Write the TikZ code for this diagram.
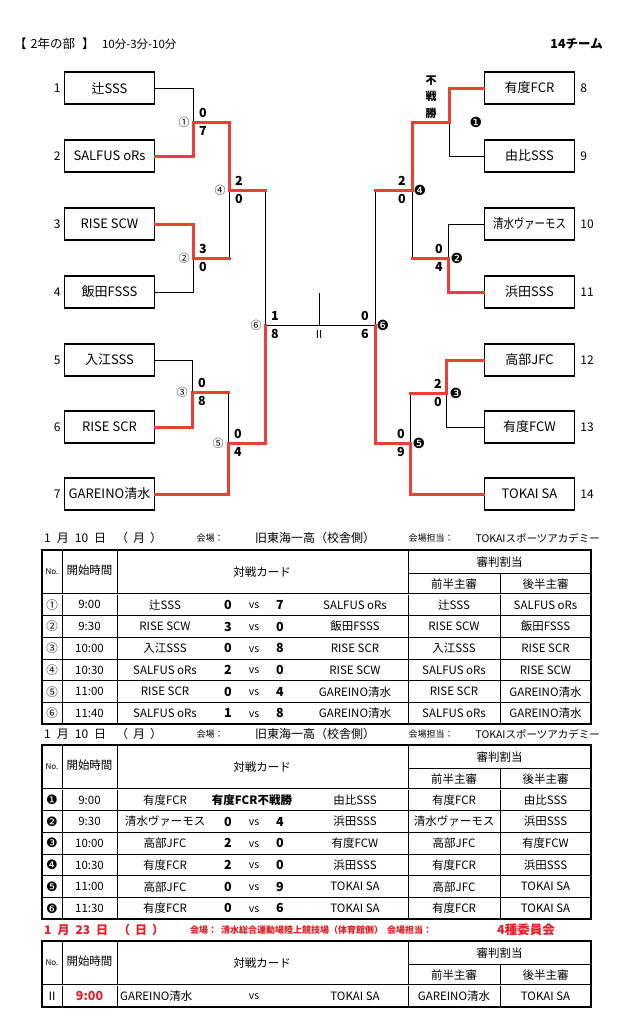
\documentclass[tikz,border=0pt]{standalone}
\usepackage{fontspec}
\setmainfont{Noto Sans CJK JP}
\newfontfamily\dv{DejaVu Sans}
\usetikzlibrary{positioning}
\definecolor{winred}{RGB}{236,64,52}
\definecolor{datered}{RGB}{228,30,36}

\begin{document}
\begin{tikzpicture}[x=1pt,y=-1pt,
  team/.style={draw,line width=1.5pt,minimum width=90pt,minimum height=32pt,inner sep=0pt,font=\fontsize{13}{15}\selectfont},
  seed/.style={inner sep=0pt,font=\fontsize{12}{14}\selectfont},
  lose/.style={line width=0.9pt},
  win/.style={draw=winred,line width=3pt,line cap=rect},
  score/.style={inner sep=0pt,font=\bfseries\fontsize{12.5}{14}\selectfont},
  gameno/.style={inner sep=0pt,font=\fontsize{11}{13}\selectfont},
  dark/.style={inner sep=0pt,font=\dv\fontsize{14}{16}\selectfont},
  cell/.style={inner sep=0pt,font=\fontsize{11.5}{13}\selectfont},
  note/.style={inner sep=0pt,font=\fontsize{9}{11}\selectfont},
  rule/.style={line width=0.7pt},
  tblframe/.style={line width=1.6pt}]
  \useasboundingbox (0,0) rectangle (624,1029);
  \fill[white] (0,0) rectangle (624,1029);

  % cabecera
  \node[anchor=west,inner sep=0pt,font=\fontsize{12.5}{14}\selectfont] (title) at (14,44) {【\hspace{4pt}2年の部\hspace{7pt}】};
  \node[inner sep=0pt,font=\fontsize{11.5}{13}\selectfont,right=7pt of title] (rules) {10分-3分-10分};
  \node[anchor=east,inner sep=0pt,font=\bfseries\fontsize{12.5}{14}\selectfont] (count) at (603,44) {14チーム};

  % equipos (izquierda)
  \node[team] (t1) at (109.5,88) {辻SSS};
  \node[team] (t2) at (109.5,156) {SALFUS oRs};
  \node[team] (t3) at (109.5,224) {RISE SCW};
  \node[team] (t4) at (109.5,292) {飯田FSSS};
  \node[team] (t5) at (109.5,360) {入江SSS};
  \node[team] (t6) at (109.5,427) {RISE SCR};
  \node[team] (t7) at (109.5,494) {GAREINO清水};
  % equipos (derecha)
  \node[team] (t8) at (529.5,88) {有度FCR};
  \node[team] (t9) at (529.5,156) {由比SSS};
  \node[team] (t10) at (529.5,224) {\scalebox{0.8}[1]{清水ヴァーモス}};
  \node[team] (t11) at (529.5,292) {浜田SSS};
  \node[team] (t12) at (529.5,360) {高部JFC};
  \node[team] (t13) at (529.5,427) {有度FCW};
  \node[team] (t14) at (529.5,494) {TOKAI SA};
  \foreach \k in {1,...,7}{\node[seed,left=3pt of t\k] (s\k) {\k};}
  \foreach \k in {8,...,14}{\node[seed,right=5pt of t\k] (s\k) {\k};}

  % puntos de cruce
  \coordinate (m1) at (193,122);
  \coordinate (m2) at (193,258);
  \coordinate (m3) at (192,392);
  \coordinate (m4) at (229,190);
  \coordinate (m5) at (228,443);
  \coordinate (m6) at (265,325);
  \coordinate (n1) at (449,122);
  \coordinate (n2) at (448,258);
  \coordinate (n3) at (446,393);
  \coordinate (n4) at (412,190);
  \coordinate (n5) at (410,443);
  \coordinate (n6) at (375,325);
  \coordinate (pole) at (319,293);

  % lineas perdedoras
  \draw[lose] (t1.east) -| (m1);
  \draw[lose] (t4.east) -| (m2);
  \draw[lose] (t5.east) -| (m3);
  \draw[lose] (m2 -| m4) -- (m4);
  \draw[lose] (m4 -| m6) -- (m6);
  \draw[lose] (m3 -| m5) -- (m5);
  \draw[lose] (t9.west) -| (n1);
  \draw[lose] (t10.west) -| (n2);
  \draw[lose] (t13.west) -| (n3);
  \draw[lose] (n2 -| n4) -- (n4);
  \draw[lose] (n4 -| n6) -- (n6);
  \draw[lose] (n3 -| n5) -- (n5);
  \draw[lose] (m6) -- (n6);
  \draw[lose] (pole) -- (pole |- m6);

  % lineas ganadoras
  \draw[win] (t2.east) -| (m1) -| (m4) -- (m4 -| m6);
  \draw[win] (t3.east) -| (m2) -- (m2 -| m4);
  \draw[win] (t6.east) -| (m3) -- (m3 -| m5);
  \draw[win] (t7.east) -| (m5) -| (m6);
  \draw[win] (t8.west) -| (n1) -| (n4) -- (n4 -| n6);
  \draw[win] (t11.west) -| (n2) -- (n2 -| n4);
  \draw[win] (t12.west) -| (n3) -- (n3 -| n5);
  \draw[win] (t14.west) -| (n5) -| (n6);

  % marcadores y numeros de partido
  \foreach \g/\x/\y/\sa/\sb/\mx/\num in {m1/203/122/0/7/184/①, m2/203/258/3/0/184/②, m3/202/392/0/8/182/③,
      m4/239/190/2/0/220/④, m5/238/443/0/4/218/⑤, m6/275/325/1/8/256/⑥}{
    \node[score] (\g-a) at (\x,\y-9) {\sa};
    \node[score] (\g-b) at (\x,\y+9) {\sb};
    \node[gameno] (\g-no) at (\mx,\y) {\num};
  }
  \foreach \g/\x/\y/\sa/\sb/\mx/\num in {n2/439/258/0/4/457/❷, n3/438/393/2/0/456/❸, n4/402/190/2/0/420/❹,
      n5/401/443/0/9/419/❺, n6/365/325/0/6/383/❻}{
    \node[score] (\g-a) at (\x,\y-9) {\sa};
    \node[score] (\g-b) at (\x,\y+9) {\sb};
    \node[dark] (\g-no) at (\mx,\y) {\num};
  }
  \node[dark] (n1-no) at (476,122) {❶};
  \node[inner sep=0pt,align=center,font=\bfseries\fontsize{11}{16.5}\selectfont] (bye) at (431,97) {不\\戦\\勝};
  \node[gameno] (final) at (319,334) {Ⅱ};

  % fechas
  \foreach \dy in {538,734}{
    \node[anchor=west,cell,font=\fontsize{12}{14}\selectfont] (date\dy) at (44,\dy) {1\hspace{6pt}月\hspace{6pt}10\hspace{6pt}日\hspace{10pt}（\hspace{5pt}月\hspace{5pt}）};
    \node[note] (venue\dy) at (210,\dy) {会場：};
    \node[cell,font=\fontsize{12}{14}\selectfont] (place\dy) at (315,\dy) {旧東海一高（校舎側）};
    \node[note] (staff\dy) at (431,\dy) {会場担当：};
    \node[anchor=east,cell,font=\fontsize{10.5}{12}\selectfont] (host\dy) at (600,\dy) {TOKAIスポーツアカデミー};
  }
  \node[anchor=west,inner sep=0pt,text=datered,font=\bfseries\fontsize{12}{14}\selectfont] (date930) at (44,930) {1\hspace{6pt}月\hspace{6pt}23\hspace{6pt}日\hspace{10pt}（\hspace{5pt}日\hspace{5pt}）};
  \node[anchor=west,inner sep=0pt,text=datered,font=\bfseries\fontsize{9}{11}\selectfont] (venue930) at (190,930) {会場：\hspace{4pt}清水総合運動場陸上競技場（体育館側）\hspace{4pt}会場担当：};
  \node[inner sep=0pt,text=datered,font=\bfseries\fontsize{12.5}{14}\selectfont] (host930) at (526,930) {4種委員会};

  % tablas
  \foreach \ty/\nr in {550/6,745/6,941/1}{
    \pgfmathsetmacro\hb{\ty+44}
    \pgfmathsetmacro\tbot{\ty+44+21.7*\nr}
    \foreach \k in {1,...,5}{\ifnum\k<\nr \draw[rule] (42,{\hb+21.7*\k}) -- (591,{\hb+21.7*\k});\fi}
    \draw[rule] (62,\ty) -- (62,\tbot) (117,\ty) -- (117,\tbot) (408,\ty) -- (408,\tbot)
      (500,\ty+23) -- (500,\tbot) (408,\ty+23) -- (591,\ty+23);
    \draw[rule,double,double distance=1pt] (42,\hb) -- (591,\hb);
    \draw[tblframe] (42,\ty) rectangle (591,\tbot);
    \node[note,font=\fontsize{8}{10}\selectfont] (no\ty) at (52,\ty+22) {No.};
    \node[cell] (time\ty) at (89.5,\ty+20) {開始時間};
    \node[cell] (card\ty) at (262,\ty+22) {対戦カード};
    \node[cell] (ref\ty) at (499.5,\ty+12) {審判割当};
    \node[cell] (first\ty) at (454,\ty+34) {前半主審};
    \node[cell] (second\ty) at (545.5,\ty+34) {後半主審};
  }

  % partidos, dia 10 (1)
  \foreach \cno/\ctime/\home/\sh/\sa/\away/\refa/\refb [count=\i] in {
      ①/9:00/辻SSS/0/7/SALFUS oRs/辻SSS/SALFUS oRs,
      ②/9:30/RISE SCW/3/0/飯田FSSS/RISE SCW/飯田FSSS,
      ③/10:00/入江SSS/0/8/RISE SCR/入江SSS/RISE SCR,
      ④/10:30/SALFUS oRs/2/0/RISE SCW/SALFUS oRs/RISE SCW,
      ⑤/11:00/RISE SCR/0/4/GAREINO清水/RISE SCR/GAREINO清水,
      ⑥/11:40/SALFUS oRs/1/8/GAREINO清水/SALFUS oRs/GAREINO清水}{
    \pgfmathsetmacro\ry{594+21.7*(\i-0.5)}
    \node[cell] (a\i-no) at (52,\ry) {\cno};
    \node[cell] (a\i-time) at (89.5,\ry) {\ctime};
    \node[cell] (a\i-home) at (165,\ry) {\home};
    \node[score] (a\i-sh) at (228,\ry) {\sh};
    \node[cell,font=\fontsize{10.5}{12}\selectfont] (a\i-vs) at (254,\ry+1) {vs};
    \node[score] (a\i-sa) at (280,\ry) {\sa};
    \node[cell] (a\i-away) at (355,\ry) {\away};
    \node[cell] (a\i-refa) at (454,\ry) {\refa};
    \node[cell] (a\i-refb) at (545.5,\ry) {\refb};
  }

  % partidos, dia 10 (2)
  \node[dark,font=\dv\fontsize{13}{15}\selectfont] (b1-no) at (52,800) {❶};
  \node[cell] (b1-time) at (89.5,800) {9:00};
  \node[cell] (b1-home) at (165,800) {有度FCR};
  \node[score,font=\bfseries\fontsize{11.5}{13}\selectfont] (b1-bye) at (252,800) {有度FCR不戦勝};
  \node[cell] (b1-away) at (355,800) {由比SSS};
  \node[cell] (b1-refa) at (454,800) {有度FCR};
  \node[cell] (b1-refb) at (545.5,800) {由比SSS};
  \foreach \cno/\ctime/\home/\sh/\sa/\away/\refa/\refb [count=\i from 2] in {
      ❷/9:30/清水ヴァーモス/0/4/浜田SSS/清水ヴァーモス/浜田SSS,
      ❸/10:00/高部JFC/2/0/有度FCW/高部JFC/有度FCW,
      ❹/10:30/有度FCR/2/0/浜田SSS/有度FCR/浜田SSS,
      ❺/11:00/高部JFC/0/9/TOKAI SA/高部JFC/TOKAI SA,
      ❻/11:30/有度FCR/0/6/TOKAI SA/有度FCR/TOKAI SA}{
    \pgfmathsetmacro\ry{789+21.7*(\i-0.5)}
    \node[dark,font=\dv\fontsize{13}{15}\selectfont] (b\i-no) at (52,\ry) {\cno};
    \node[cell] (b\i-time) at (89.5,\ry) {\ctime};
    \node[cell] (b\i-home) at (165,\ry) {\home};
    \node[score] (b\i-sh) at (228,\ry) {\sh};
    \node[cell,font=\fontsize{10.5}{12}\selectfont] (b\i-vs) at (254,\ry+1) {vs};
    \node[score] (b\i-sa) at (280,\ry) {\sa};
    \node[cell] (b\i-away) at (355,\ry) {\away};
    \node[cell] (b\i-refa) at (454,\ry) {\refa};
    \node[cell] (b\i-refb) at (545.5,\ry) {\refb};
  }

  % final, dia 23
  \node[cell] (c1-no) at (52,996) {Ⅱ};
  \node[score,text=datered] (c1-time) at (89.5,996) {9:00};
  \node[cell,anchor=west] (c1-home) at (120,996) {GAREINO清水};
  \node[cell,font=\fontsize{10.5}{12}\selectfont] (c1-vs) at (254,997) {vs};
  \node[cell] (c1-away) at (355,996) {TOKAI SA};
  \node[cell] (c1-refa) at (454,996) {GAREINO清水};
  \node[cell] (c1-refb) at (545.5,996) {TOKAI SA};
\end{tikzpicture}
\end{document}
